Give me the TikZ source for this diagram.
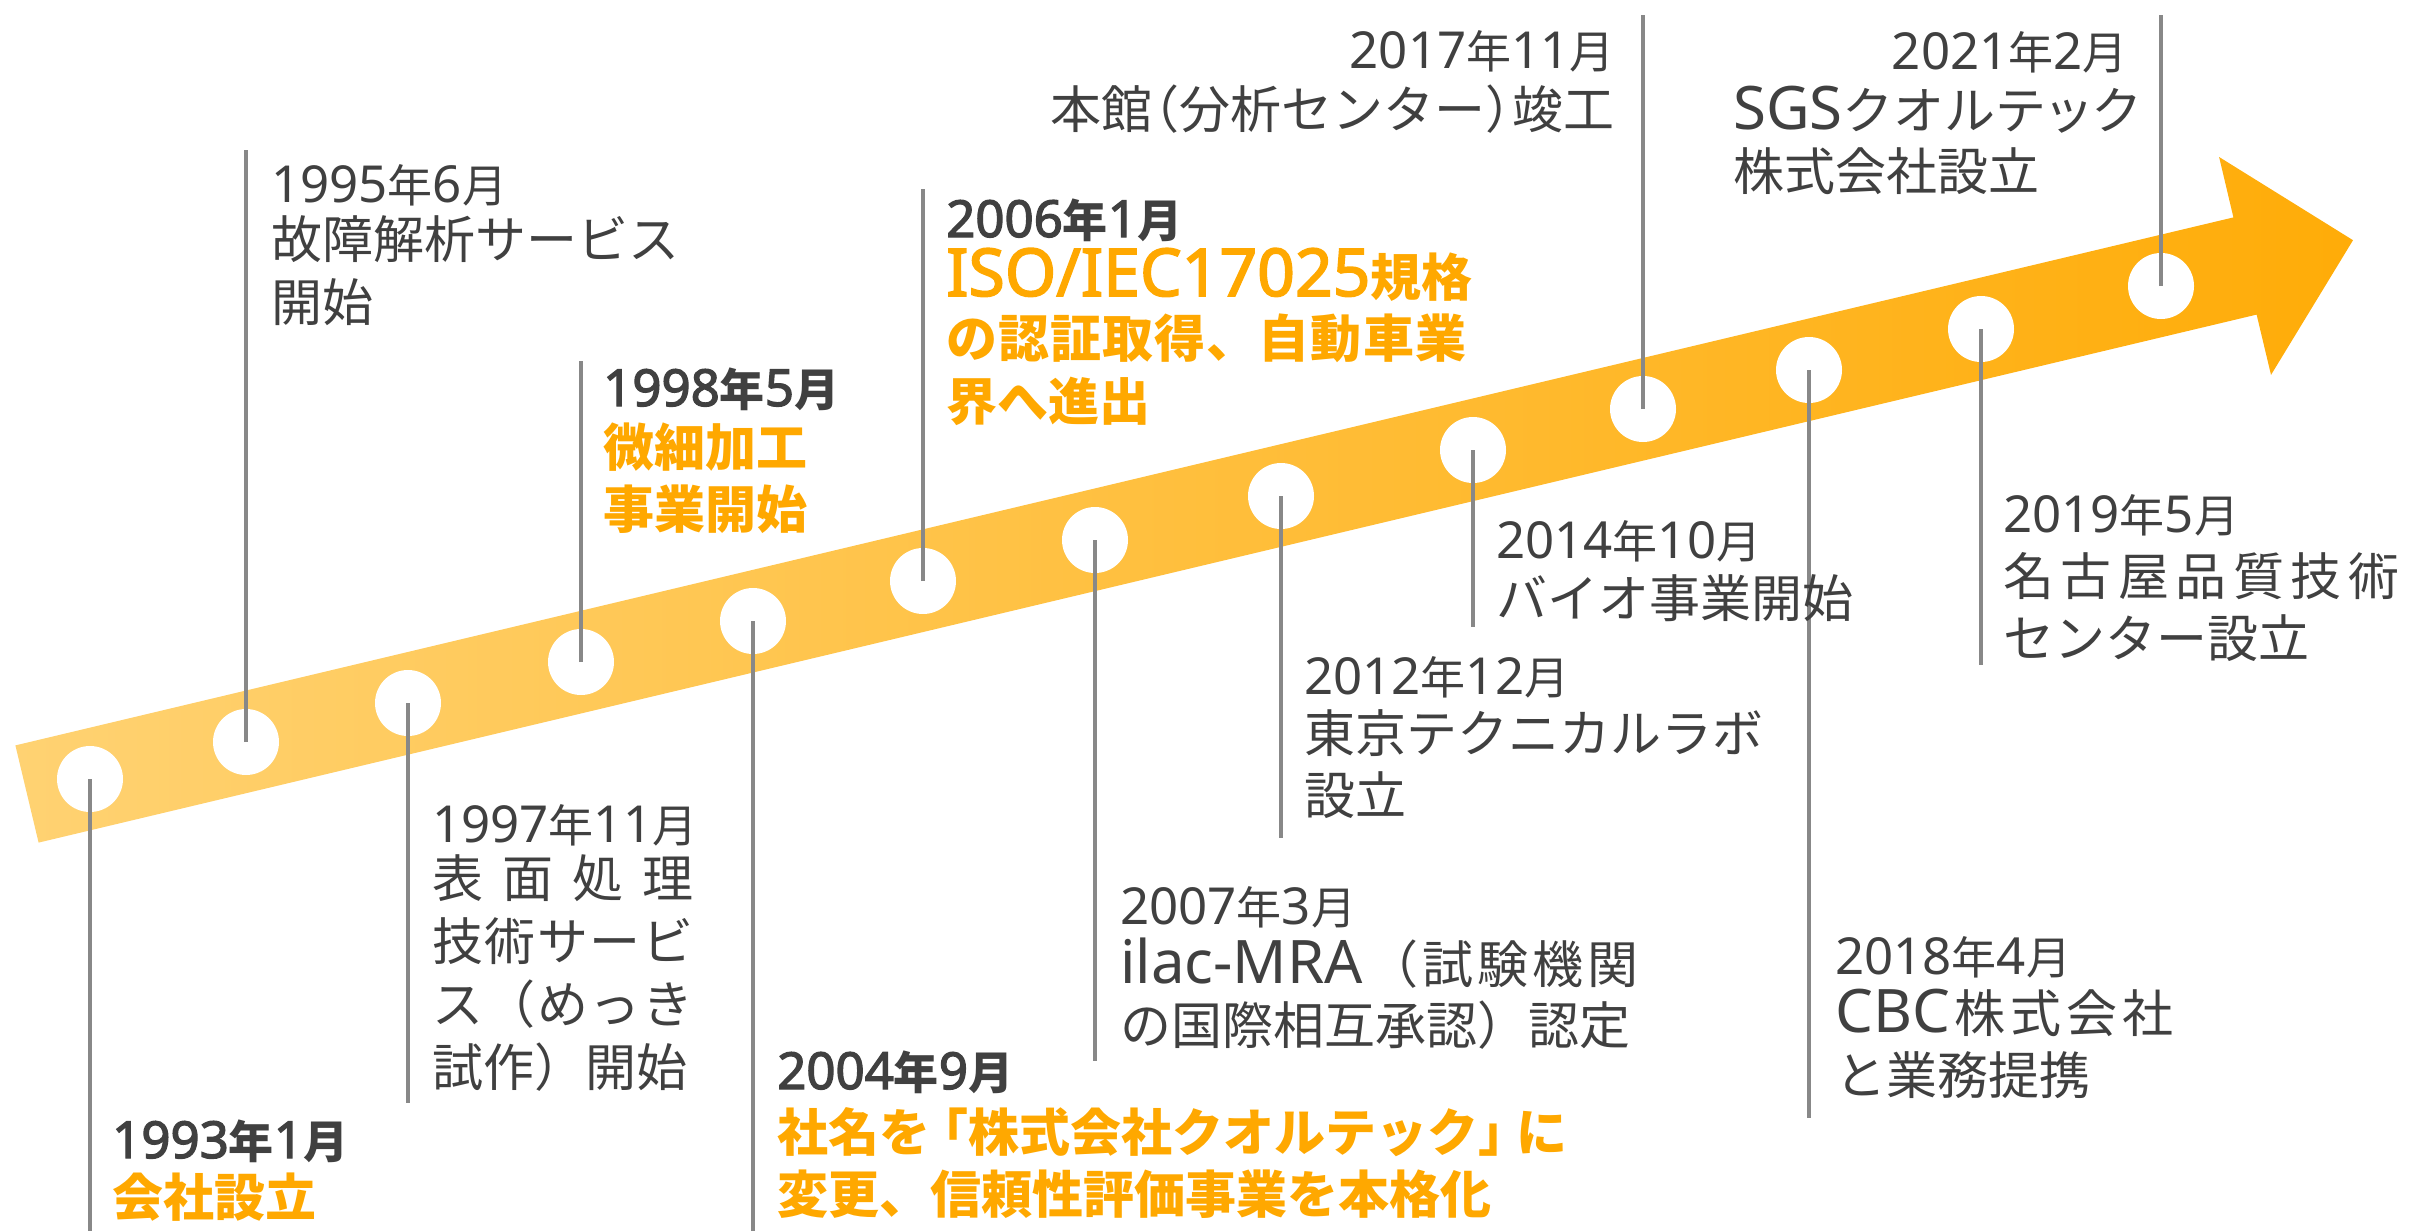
\documentclass[tikz,border=0pt]{standalone}
\usepackage{fontspec}
\setmainfont{Noto Sans CJK JP}
\newfontfamily\latf{Noto Sans}[BoldFont={Noto Sans}, BoldFeatures={FakeBold=2.5}]
\definecolor{txt}{HTML}{404040}
\definecolor{org}{HTML}{FFA800}
\definecolor{lne}{HTML}{888888}
\definecolor{bandL}{HTML}{FFD272}
\definecolor{bandR}{HTML}{FFAC08}
\newcommand\Ld[1]{{\latf\fontsize{51}{51}\selectfont#1}}
\newcommand\Lb[1]{{\latf\fontsize{60}{60}\selectfont#1}}
\newcommand\Lw[1]{{\latf\fontsize{66}{66}\selectfont#1}}
\makeatletter
\newcommand\spreadline[2]{\makebox[#1][s]{\spr@first#2\spr@end}}
\def\spr@first#1{{#1}\spr@rest}
\def\spr@rest#1{\ifx\spr@end#1\else\hfill{#1}\expandafter\spr@rest\fi}
\def\spr@end{\spr@end@}
\makeatother
\tikzset{
  dot/.style={circle, fill=white, minimum size=66pt, inner sep=0pt},
  vline/.style={draw=lne, line width=4pt},
  datetxt/.style={anchor=base west, inner sep=0pt, text=txt, font=\fontsize{45}{45}\selectfont},
  datebold/.style={datetxt, font=\bfseries\fontsize{45}{45}\selectfont},
  bodytxt/.style={anchor=base west, inner sep=0pt, text=txt, font=\fontsize{51}{51}\selectfont},
  hltxt/.style={anchor=base west, inner sep=0pt, text=org, font=\bfseries\fontsize{51}{51}\selectfont},
}
\begin{document}
\begin{tikzpicture}[x=1pt,y=-1pt]
\useasboundingbox (0,0) rectangle (2412,1231);
% arrow band
\shade[left color=bandL, right color=bandR]
  (15.4,745.4) -- (2233.4,217.4) -- (2219.1,157.0) -- (2353.0,240.2)
  -- (2271.0,374.9) -- (2256.6,314.6) -- (38.6,842.6) -- cycle;
% dots
\node[dot] (d1) at (90,779) {};
\node[dot] (d2) at (246,742) {};
\node[dot] (d3) at (408,703) {};
\node[dot] (d4) at (581,662) {};
\node[dot] (d5) at (753,621) {};
\node[dot] (d6) at (923,581) {};
\node[dot] (d7) at (1095,540) {};
\node[dot] (d8) at (1281,496) {};
\node[dot] (d9) at (1473,450) {};
\node[dot] (d10) at (1643,409) {};
\node[dot] (d11) at (1809,370) {};
\node[dot] (d12) at (1981,329) {};
\node[dot] (d13) at (2161,286) {};
% line ends
\coordinate (e1) at (90,1231);
\coordinate (e2) at (246,150);
\coordinate (e3) at (408,1103);
\coordinate (e4) at (581,361);
\coordinate (e5) at (753,1231);
\coordinate (e6) at (923,189);
\coordinate (e7) at (1095,1061);
\coordinate (e8) at (1281,838);
\coordinate (e9) at (1473,627);
\coordinate (e10) at (1643,15);
\coordinate (e11) at (1809,1118);
\coordinate (e12) at (1981,665);
\coordinate (e13) at (2161,15);
\foreach \i in {1,...,13} {\draw[vline] (d\i.center) -- (e\i);}
% G1
\node[datebold] (t1a) at (112,1158) {\Ld{1993}年\Ld{1}月};
\node[hltxt] (t1b) at (112,1216) {会社設立};
% G2
\node[datetxt] (t2a) at (271,202) {\Ld{1995}年\Ld{6}月};
\node[bodytxt] (t2b) at (271,258) {故障解析サービス};
\node[bodytxt] (t2c) at (271,321) {開始};
% G3
\node[datetxt] (t3a) at (432,842) {\Ld{1997}年\Ld{11}月};
\node[bodytxt] (t3b) at (432,897) {\spreadline{261pt}{表面処理}};
\node[bodytxt] (t3c) at (432,960) {\spreadline{261pt}{技術サービ}};
\node[bodytxt] (t3d) at (432,1023) {\spreadline{261pt}{ス（めっき}};
\node[bodytxt] (t3e) at (432,1086) {試作）開始};
% G4
\node[datebold] (t4a) at (603,406) {\Ld{1998}年\Ld{5}月};
\node[hltxt] (t4b) at (603,466) {微細加工};
\node[hltxt] (t4c) at (603,528) {事業開始};
% G5
\node[datebold] (t5a) at (777,1089) {\Ld{2004}年\Ld{9}月};
\node[hltxt] (t5b) at (777,1151) {社名を\hspace{-13pt}「株式会社クオルテック」\hspace{-13pt}に};
\node[hltxt] (t5c) at (777,1213) {変更、信頼性評価事業を本格化};
% G6
\node[datebold] (t6a) at (946,237) {\Ld{2006}年\Ld{1}月};
\node[hltxt] (t6b) at (946,296) {\spreadline{520pt}{{\Lw{ISO/IEC17025}}規格}};
\node[hltxt] (t6c) at (946,357) {\spreadline{520pt}{の認証取得、自動車業}};
\node[hltxt] (t6d) at (946,420) {界へ進出};
% G7
\node[datetxt] (t7a) at (1120,924) {\Ld{2007}年\Ld{3}月};
\node[bodytxt] (t7b) at (1120,983) {\spreadline{518pt}{{\Lb{ilac-MRA}}（試験機関}};
\node[bodytxt] (t7c) at (1120,1044) {の国際相互承認）認定};
% G8
\node[datetxt] (t8a) at (1304,694) {\Ld{2012}年\Ld{12}月};
\node[bodytxt] (t8b) at (1304,752) {東京テクニカルラボ};
\node[bodytxt] (t8c) at (1304,814) {設立};
% G9
\node[datetxt] (t9a) at (1496,558) {\Ld{2014}年\Ld{10}月};
\node[bodytxt] (t9b) at (1496,617) {バイオ事業開始};
% G10
\node[datetxt, anchor=base east] (t10a) at (1615,68) {\Ld{2017}年\Ld{11}月};
\node[bodytxt, anchor=base east] (t10b) at (1615,128) {本館\hspace{-24pt}（分析センター）\hspace{-24pt}竣工};
% G11
\node[datetxt] (t11a) at (1835,974) {\Ld{2018}年\Ld{4}月};
\node[bodytxt] (t11b) at (1835,1032) {\spreadline{338pt}{{\Lb{CBC}}株式会社}};
\node[bodytxt] (t11c) at (1835,1094) {と業務提携};
% G12
\node[datetxt] (t12a) at (2003,532) {\Ld{2019}年\Ld{5}月};
\node[bodytxt] (t12b) at (2003,595) {\spreadline{396pt}{名古屋品質技術}};
\node[bodytxt] (t12c) at (2003,657) {センター設立};
% G13
\node[datetxt, anchor=base east] (t13a) at (2128,70) {\Ld{2021}年\Ld{2}月};
\node[bodytxt] (t13b) at (1733,129) {\Lb{SGS}クオルテ\hspace{-3pt}ッ\hspace{-3pt}ク};
\node[bodytxt] (t13c) at (1733,190) {株式会社設立};
\end{tikzpicture}
\end{document}
